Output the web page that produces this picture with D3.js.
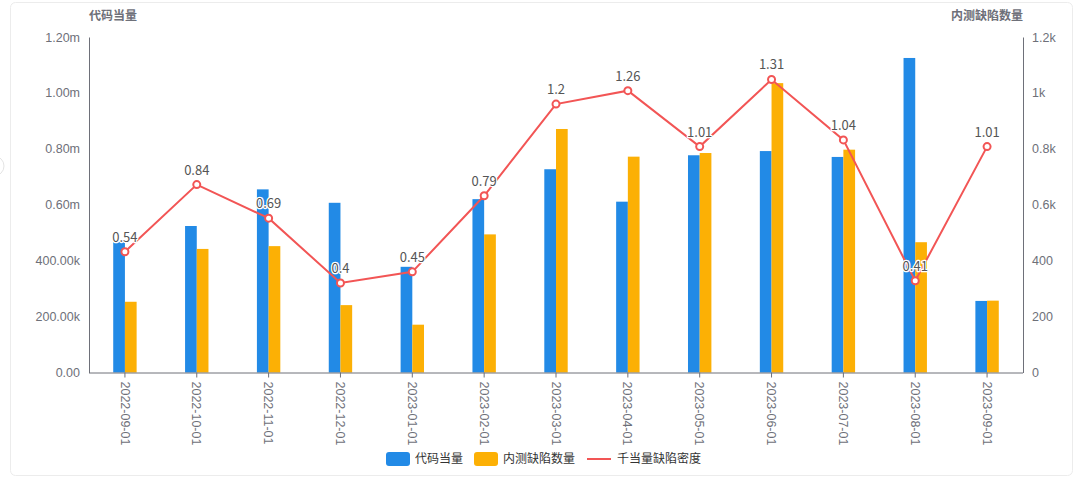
<!DOCTYPE html>
<html><head><meta charset="utf-8">
<script src="https://cdn.jsdelivr.net/npm/d3@7"></script>
<style>
html,body{margin:0;padding:0;background:#fff;}
svg{display:block;font-family:"Noto Sans CJK SC","Noto Sans",sans-serif;}
</style></head>
<body><svg id="c" width="1080" height="480"></svg>
<script>
const categories = ["2022-09-01","2022-10-01","2022-11-01","2022-12-01","2023-01-01","2023-02-01","2023-03-01","2023-04-01","2023-05-01","2023-06-01","2023-07-01","2023-08-01","2023-09-01"];
const codeEquiv = [468000,524000,655000,607000,378000,620000,727000,611000,777000,792000,771000,1125000,256000];
const defects = [253,442,452,241,171,494,871,772,785,1035,797,466,257];
const density = [0.54,0.84,0.69,0.4,0.45,0.79,1.2,1.26,1.01,1.31,1.04,0.41,1.01];
const leftTicks = [0,200000,400000,600000,800000,1000000,1200000];
const leftTickLabels = ["0.00","200.00k","400.00k","0.60m","0.80m","1.00m","1.20m"];
const rightTicks = [0,200,400,600,800,1000,1200];
const rightTickLabels = ["0","200","400","0.6k","0.8k","1k","1.2k"];
const seriesNames = ["代码当量","内测缺陷数量","千当量缺陷密度"];
const axisTitles = ["代码当量","内测缺陷数量"];

const colors = {blue:"#228ae6", orange:"#fcb005", red:"#f25555", axis:"#6e7079", text:"#6e7079", label:"#555"};
const svg = d3.select("#c");
const m = {l:89, r:1023, t:37, b:372.5};

// card
svg.append("rect").attr("x",10.5).attr("y",2.5).attr("width",1062).attr("height",473)
  .attr("rx",5).attr("fill","#fff").attr("stroke","#ececec");
svg.append("circle").attr("cx",-6).attr("cy",166).attr("r",10).attr("fill","#fff").attr("stroke","#e4e4e4");

const x = d3.scaleBand().domain(categories).range([m.l,m.r]).paddingInner(0).paddingOuter(0);
const yL = d3.scaleLinear().domain([0,1200000]).range([m.b,m.t]);
const yR = d3.scaleLinear().domain([0,1200]).range([m.b,m.t]);
const yD = d3.scaleLinear().domain([0,1.5]).range([m.b,m.t]);
const bw = 11.7;

// left axis
const gL = svg.append("g").attr("transform",`translate(${m.l},0)`)
  .call(d3.axisLeft(yL).tickValues(leftTicks).tickSize(0).tickPadding(9).tickFormat((d,i)=>leftTickLabels[i]));
gL.select(".domain").attr("stroke",colors.axis);
gL.selectAll("text").attr("fill",colors.text).style("font-size","12.5px");

// right axis
const gR = svg.append("g").attr("transform",`translate(${m.r},0)`)
  .call(d3.axisRight(yR).tickValues(rightTicks).tickSize(0).tickPadding(9).tickFormat((d,i)=>rightTickLabels[i]));
gR.select(".domain").attr("stroke",colors.axis);
gR.selectAll("text").attr("fill",colors.text).style("font-size","12.5px");

// bars
svg.append("g").selectAll("rect").data(categories).join("rect")
  .attr("x",d=>x(d)+x.bandwidth()/2-bw).attr("width",bw)
  .attr("y",(d,i)=>yL(codeEquiv[i])).attr("height",(d,i)=>yL(0)-yL(codeEquiv[i]))
  .attr("fill",colors.blue);
svg.append("g").selectAll("rect").data(categories).join("rect")
  .attr("x",d=>x(d)+x.bandwidth()/2).attr("width",bw)
  .attr("y",(d,i)=>yR(defects[i])).attr("height",(d,i)=>yR(0)-yR(defects[i]))
  .attr("fill",colors.orange);

// x axis
const gX = svg.append("g").attr("transform",`translate(0,${m.b})`)
  .call(d3.axisBottom(x).tickSize(5).tickSizeOuter(0).tickPadding(0));
gX.select(".domain").attr("stroke",colors.axis).attr("d",`M${m.l},0.5H${m.r}`);
gX.selectAll(".tick line").attr("stroke",colors.axis);
gX.selectAll("text").attr("fill",colors.text).style("font-size","12.5px")
  .attr("transform","translate(0,9) rotate(90)").attr("text-anchor","start").attr("dy","0.35em").attr("x",0).attr("y",0);

// line
const cx = d=>x(d)+x.bandwidth()/2;
svg.append("path").datum(categories)
  .attr("d",d3.line().x(cx).y((d,i)=>yD(density[i])))
  .attr("fill","none").attr("stroke",colors.red).attr("stroke-width",2);
svg.append("g").selectAll("circle").data(categories).join("circle")
  .attr("cx",cx).attr("cy",(d,i)=>yD(density[i])).attr("r",3.5)
  .attr("fill","#fff").attr("stroke",colors.red).attr("stroke-width",2);
svg.append("g").selectAll("text").data(categories).join("text")
  .attr("x",cx).attr("y",(d,i)=>yD(density[i])-10)
  .attr("text-anchor","middle").style("font-size","13px").attr("fill",colors.label)
  .attr("stroke","#fff").attr("stroke-width",2.5).attr("paint-order","stroke").attr("stroke-linejoin","round")
  .text((d,i)=>density[i]);

// axis titles
svg.append("text").attr("x",m.l).attr("y",20).attr("fill",colors.text).attr("font-weight","bold")
  .style("font-size","12px").text(axisTitles[0]);
svg.append("text").attr("x",m.r).attr("y",20).attr("text-anchor","end").attr("fill",colors.text).attr("font-weight","bold")
  .style("font-size","12px").text(axisTitles[1]);

// legend
const lg = svg.append("g");
const ly = 459;
lg.append("rect").attr("x",386).attr("y",ly-7).attr("width",24).attr("height",14).attr("rx",3).attr("fill",colors.blue);
lg.append("text").attr("x",415).attr("y",ly).attr("dy","0.35em").style("font-size","12px").attr("fill","#333").text(seriesNames[0]);
lg.append("rect").attr("x",474).attr("y",ly-7).attr("width",24).attr("height",14).attr("rx",3).attr("fill",colors.orange);
lg.append("text").attr("x",503).attr("y",ly).attr("dy","0.35em").style("font-size","12px").attr("fill","#333").text(seriesNames[1]);
lg.append("line").attr("x1",587).attr("x2",611).attr("y1",ly).attr("y2",ly).attr("stroke",colors.red).attr("stroke-width",2);
lg.append("text").attr("x",617).attr("y",ly).attr("dy","0.35em").style("font-size","12px").attr("fill","#333").text(seriesNames[2]);
</script></body></html>
